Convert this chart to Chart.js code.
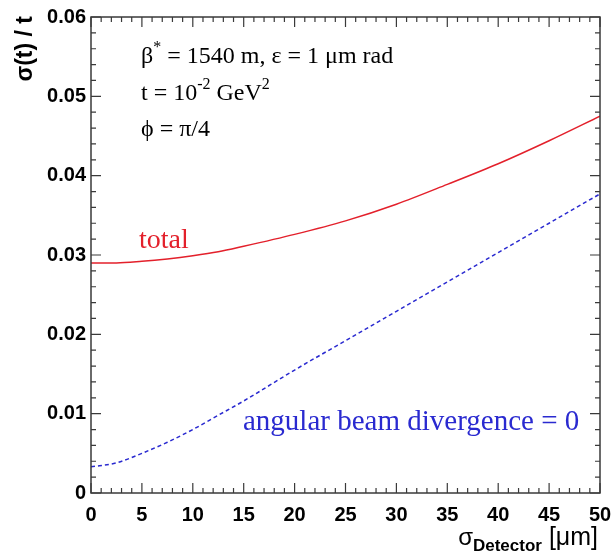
<!DOCTYPE html>
<html>
<head>
<meta charset="utf-8">
<script src="https://cdn.jsdelivr.net/npm/chart.js@4"></script>
<style>
  html, body { margin: 0; padding: 0; background: #fff; }
  #wrap { width: 612px; height: 555px; }
</style>
</head>
<body>
<div id="wrap"><canvas id="plot" width="612" height="555"></canvas></div>
<script>
// sigma_detector [um]
const sigmaDet = [0, 2.5, 5, 7.5, 10, 12.5, 15, 20, 25, 30, 35, 40, 45, 50];
// sigma(t)/t, total
const totalRes = [0.0290, 0.0290, 0.0292, 0.0295, 0.0299, 0.0304, 0.0311, 0.0326, 0.0343, 0.0364, 0.0389, 0.0415, 0.0444, 0.0475];
// sigma(t)/t, angular beam divergence = 0
const noDivRes = [0.0033, 0.0038, 0.0050, 0.0064, 0.0080, 0.0098, 0.0116, 0.0155, 0.0192, 0.0229, 0.0266, 0.0303, 0.0340, 0.0377];

const xTicks = [0, 5, 10, 15, 20, 25, 30, 35, 40, 45, 50];
const yTicks = [0, 0.01, 0.02, 0.03, 0.04, 0.05, 0.06];

const RED = '#e3202b';
const BLUE = '#2a2ad0';
const FRAME = '#3a3a3a';

const pts = (ys) => sigmaDet.map((x, i) => ({ x: x, y: ys[i] }));

// frame box + ROOT-like inner ticks on all four sides
const framePlugin = {
    id: 'frame',
    afterDatasetsDraw(chart) {
        const { ctx, chartArea: a, scales } = chart;
        const xs = scales.x, ys = scales.y;
        ctx.save();
        ctx.strokeStyle = FRAME;
        ctx.lineWidth = 1.5;
        ctx.strokeRect(a.left, a.top, a.right - a.left, a.bottom - a.top);
        ctx.lineWidth = 1.2;
        ctx.beginPath();
        for (let v = 0; v <= 50; v += 1) {
            const px = xs.getPixelForValue(v);
            const len = v % 5 === 0 ? 10 : 5;
            ctx.moveTo(px, a.bottom); ctx.lineTo(px, a.bottom - len);
            ctx.moveTo(px, a.top); ctx.lineTo(px, a.top + len);
        }
        for (let k = 0; k <= 30; k++) {
            const py = ys.getPixelForValue(k * 0.002);
            const len = k % 5 === 0 ? 10 : 5;
            ctx.moveTo(a.left, py); ctx.lineTo(a.left + len, py);
            ctx.moveTo(a.right, py); ctx.lineTo(a.right - len, py);
        }
        ctx.stroke();
        ctx.restore();
    }
};

function drawSup(ctx, parts, x, y) {
    // parts: [text, size, dy, font family, weight]
    let cx = x;
    parts.forEach(p => {
        ctx.font = (p[4] || 'normal') + ' ' + p[1] + 'px ' + p[3];
        ctx.fillText(p[0], cx, y + p[2]);
        cx += ctx.measureText(p[0]).width;
    });
    return cx;
}

const textPlugin = {
    id: 'texts',
    afterDraw(chart) {
        const { ctx, chartArea: a } = chart;
        const serif = '"Liberation Serif", "DejaVu Serif", serif';
        const sans = '"Liberation Sans", Arial, sans-serif';
        ctx.save();
        ctx.textBaseline = 'alphabetic';
        ctx.textAlign = 'left';
        ctx.fillStyle = '#000';
        drawSup(ctx, [['\u03B2', 24, 0, serif], ['*', 16, -11, serif], [' = 1540 m, \u03B5 = 1 \u03BCm rad', 24, 0, serif]], 141, 63);
        drawSup(ctx, [['t = 10', 24, 0, serif], ['-2', 16, -11, serif], [' GeV', 24, 0, serif], ['2', 16, -11, serif]], 141, 100);
        drawSup(ctx, [['\u03D5 = \u03C0/4', 24, 0, serif]], 141, 136);

        ctx.fillStyle = RED;
        ctx.font = '28px ' + serif;
        ctx.fillText('total', 139, 248);

        ctx.fillStyle = BLUE;
        ctx.font = '29px ' + serif;
        ctx.fillText('angular beam divergence = 0', 243, 430);

        // x title, right aligned to the axis end
        ctx.fillStyle = '#000';
        const parts = [['\u03C3', 24, 0, sans, 'normal'], ['Detector', 17, 6, sans, 'bold'], [' [\u03BCm]', 25, 0, sans, 'normal']];
        let w = 0;
        parts.forEach(p => { ctx.font = p[4] + ' ' + p[1] + 'px ' + p[3]; w += ctx.measureText(p[0]).width; });
        drawSup(ctx, parts, a.right - 2 - w, 545);

        // y title, rotated, right aligned to the axis top
        ctx.translate(32, a.top - 1);
        ctx.rotate(-Math.PI / 2);
        ctx.textAlign = 'right';
        ctx.font = 'bold 23px ' + sans;
        ctx.fillText('\u03C3(t) / t', 0, 0);
        ctx.restore();
    }
};

new Chart(document.getElementById('plot'), {
    type: 'line',
    data: {
        datasets: [{
            label: 'total',
            data: pts(totalRes),
            borderColor: RED,
            borderWidth: 1.5,
            pointRadius: 0,
            cubicInterpolationMode: 'monotone',
            fill: false
        }, {
            label: 'angular beam divergence = 0',
            data: pts(noDivRes),
            borderColor: BLUE,
            borderWidth: 1.5,
            borderDash: [4, 3],
            pointRadius: 0,
            cubicInterpolationMode: 'monotone',
            fill: false
        }]
    },
    options: {
        responsive: false,
        animation: false,
        layout: { padding: { left: 0, top: 16, right: 0, bottom: 0 } },
        plugins: { legend: { display: false }, tooltip: { enabled: false } },
        scales: {
            x: {
                type: 'linear',
                min: 0, max: 50,
                grid: { display: false, drawTicks: false },
                border: { display: false },
                afterFit(s) { s.height = 62; s.paddingRight = 12; s.paddingLeft = 0; },
                afterBuildTicks(s) { s.ticks = xTicks.map(v => ({ value: v })); },
                ticks: {
                    padding: 10,
                    color: '#000',
                    font: { family: '"Liberation Sans", Arial, sans-serif', size: 20, weight: 'bold' },
                    callback: v => String(v)
                }
            },
            y: {
                type: 'linear',
                min: 0, max: 0.06,
                grid: { display: false, drawTicks: false },
                border: { display: false },
                afterFit(s) { s.width = 91; },
                afterBuildTicks(s) { s.ticks = yTicks.map(v => ({ value: v })); },
                ticks: {
                    padding: 5,
                    color: '#000',
                    font: { family: '"Liberation Sans", Arial, sans-serif', size: 20, weight: 'bold' },
                    callback: v => v === 0 ? '0' : v.toFixed(2)
                }
            }
        }
    },
    plugins: [framePlugin, textPlugin]
});
</script>
</body>
</html>
